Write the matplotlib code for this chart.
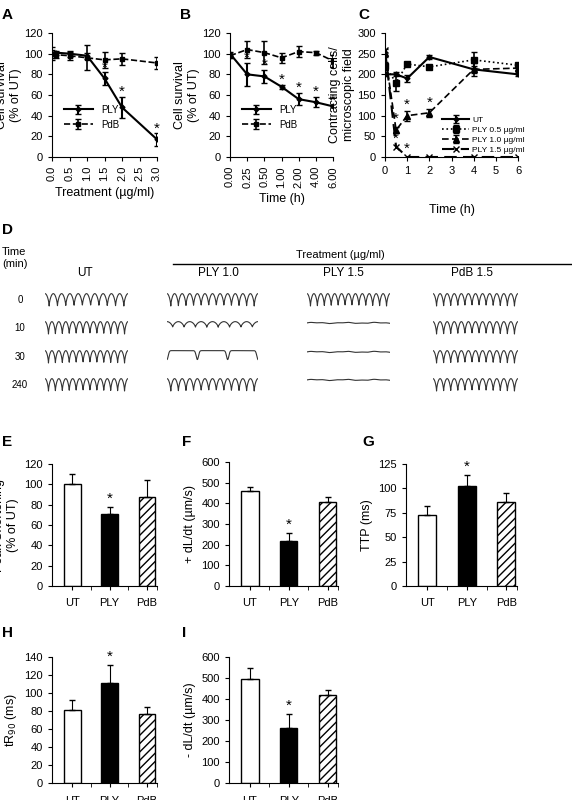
import numpy as np
import matplotlib
matplotlib.use('Agg')
import matplotlib.pyplot as plt

plt.rcParams['font.family'] = ['Liberation Sans', 'DejaVu Sans']
plt.rcParams['font.size'] = 8

# panel A
dose = [0, 0.1, 0.5, 1.0, 1.5, 2.0, 3.0]
a_ply = [100, 101, 100, 98, 76, 48, 17]
a_ply_err = [4, 2, 3, 3, 6, 10, 6]
a_pdb = [100, 99, 98, 96, 94, 95, 91]
a_pdb_err = [6, 3, 4, 12, 8, 6, 6]

# panel B
time_labels = ['0.00', '0.25', '0.50', '1.00', '2.00', '4.00', '6.00']
b_ply = [100, 80, 78, 68, 56, 53, 49]
b_ply_err = [2, 11, 6, 2, 6, 5, 1]
b_pdb = [98, 104, 101, 96, 102, 101, 93]
b_pdb_err = [2, 8, 11, 5, 5, 2, 6]

# panel C
c_time = [0, 0.5, 1, 2, 4, 6]
c_ut = [200, 200, 190, 242, 212, 200]
c_ut_err = [5, 5, 8, 5, 8, 5]
c_p05 = [220, 180, 225, 218, 235, 222]
c_p05_err = [10, 20, 5, 5, 20, 5]
c_p10 = [252, 65, 100, 107, 212, 215]
c_p10_err = [10, 8, 12, 10, 15, 5]
c_p15 = [260, 25, 0, 0, 0, 0]

# panel D trace settings
d_rows = ['0', '10', '30', '240']
d_cols = ['UT', 'PLY 1.0', 'PLY 1.5', 'PdB 1.5']
d_beats = [[10, 12, 12, 12],
           [12, 8, 0, 12],
           [12, 3, 0, 12],
           [12, 12, 0, 12]]
d_amp = [[1.0, 1.0, 1.0, 1.0],
         [1.0, 0.45, 0.05, 1.0],
         [1.0, 0.7, 0.05, 1.0],
         [1.0, 1.0, 0.05, 1.0]]

# bar panels
groups = ['UT', 'PLY', 'PdB']
bars = {
    'E': ([100, 71, 88], [10, 7, 16], 'Peak Shortening\n(% of UT)', 120, 20),
    'F': ([460, 218, 405], [18, 40, 25], '+ dL/dt (µm/s)', 600, 100),
    'G': ([73, 102, 86], [9, 12, 9], 'TTP (ms)', 125, 25),
    'H': ([81, 111, 77], [11, 20, 7], 'tR$_{90}$ (ms)', 140, 20),
    'I': ([495, 260, 420], [55, 70, 25], '- dL/dt (µm/s)', 600, 100),
}

W, H = 572, 800
fig = plt.figure(figsize=(5.72, 8.0), dpi=100)


def add_ax(x0, y0, x1, y1):
    return fig.add_axes([x0 / W, 1 - y1 / H, (x1 - x0) / W, (y1 - y0) / H])


def style(ax):
    ax.spines['top'].set_visible(False)
    ax.spines['right'].set_visible(False)
    ax.tick_params(labelsize=8, length=3)


def star(ax, x, y):
    ax.text(x, y, '*', ha='center', va='bottom', fontsize=11)


def letter(x, y, s):
    fig.text(x / W, 1 - y / H, s, fontsize=11, fontweight='bold', va='center')


# A
ax = add_ax(52, 33, 157, 157)
ax.errorbar(dose, a_ply, yerr=a_ply_err, color='black', lw=1.5, marker='D', ms=2.5, capsize=2, label='PLY')
ax.errorbar(dose, a_pdb, yerr=a_pdb_err, color='black', lw=1.2, ls='--', marker='s', ms=2.5, capsize=2, label='PdB')
for i in [4, 5, 6]:
    star(ax, dose[i], a_ply[i] + a_ply_err[i] - 2)
ax.set_xlim(0, 3)
ax.set_ylim(0, 120)
ax.set_xticks(np.arange(0, 3.01, 0.5))
ax.set_xticklabels(['%.1f' % v for v in np.arange(0, 3.01, 0.5)], rotation=90)
ax.set_yticks(range(0, 121, 20))
ax.set_xlabel('Treatment (µg/ml)', fontsize=9)
ax.set_ylabel('Cell survival\n(% of UT)', fontsize=9, labelpad=2)
ax.legend(loc='lower left', bbox_to_anchor=(0.03, 0.15), frameon=False, fontsize=7, handlelength=3)
style(ax)
letter(2, 15, 'A')

# B
ax = add_ax(230, 33, 333, 157)
xb = np.arange(len(time_labels))
ax.errorbar(xb, b_ply, yerr=b_ply_err, color='black', lw=1.5, marker='D', ms=2.5, capsize=2, label='PLY')
ax.errorbar(xb, b_pdb, yerr=b_pdb_err, color='black', lw=1.2, ls='--', marker='s', ms=2.5, capsize=2, label='PdB')
for i in range(1, 7):
    star(ax, xb[i], b_ply[i] + b_ply_err[i] - 2)
ax.set_xlim(0, 6)
ax.set_ylim(0, 120)
ax.set_xticks(xb)
ax.set_xticklabels(time_labels, rotation=90)
ax.set_yticks(range(0, 121, 20))
ax.set_xlabel('Time (h)', fontsize=9)
ax.set_ylabel('Cell survival\n(% of UT)', fontsize=9, labelpad=2)
ax.legend(loc='lower left', bbox_to_anchor=(0.03, 0.15), frameon=False, fontsize=7, handlelength=3)
style(ax)
letter(180, 15, 'B')

# C
ax = add_ax(385, 33, 518, 157)
h1 = ax.errorbar(c_time, c_ut, yerr=c_ut_err, color='black', lw=1.5, marker='D', ms=2.5, capsize=2)
h2 = ax.errorbar(c_time, c_p05, yerr=c_p05_err, color='black', lw=1.2, ls=':', marker='s', ms=4, capsize=2)
h3 = ax.errorbar(c_time, c_p10, yerr=c_p10_err, color='black', lw=1.2, ls=(0, (4, 2)), marker='^', ms=4, capsize=2)
h4, = ax.plot(c_time, c_p15, color='black', lw=1.5, ls=(0, (6, 3)), marker='x', ms=4)
star(ax, 0.5, 75)
star(ax, 0.5, 28)
star(ax, 1, 110)
star(ax, 1, 3)
star(ax, 2, 115)
ax.set_xlim(0, 6)
ax.set_ylim(0, 300)
ax.set_xticks(range(7))
ax.set_yticks(range(0, 301, 50))
ax.set_xlabel('Time (h)', fontsize=9, labelpad=20)
ax.set_ylabel('Contracting cells/\nmicroscopic field', fontsize=9, labelpad=2)
ax.legend([h1, h2, h3, h4], ['UT', 'PLY 0.5 µg/ml', 'PLY 1.0 µg/ml', 'PLY 1.5 µg/ml'],
          loc='lower left', bbox_to_anchor=(438 / W, 1 - 158 / H), bbox_transform=fig.transFigure,
          frameon=False, fontsize=6, handlelength=3.2, labelspacing=0.25, borderpad=0, handletextpad=0.4)
style(ax)
letter(358, 15, 'C')

# D
letter(2, 230, 'D')
fig.text(2 / W, 1 - 258 / H, 'Time\n(min)', fontsize=8, va='center')
fig.text(340 / W, 1 - 255 / H, 'Treatment (µg/ml)', fontsize=8, ha='center', va='center')
fig.add_artist(plt.Line2D([173 / W, 571 / W], [1 - 264 / H, 1 - 264 / H], color='black', lw=1))
col_x = [45, 167, 307, 433]
col_w = [83, 91, 83, 85]
col_center = [85, 218, 343, 472]
row_y = [300, 328, 357, 385]
for j, name in enumerate(d_cols):
    fig.text(col_center[j] / W, 1 - 273 / H, name, fontsize=8.5, ha='center', va='center')
for i, r in enumerate(d_rows):
    fig.text(20 / W, 1 - row_y[i] / H, r, fontsize=7, ha='center', va='center')
    for j in range(4):
        tax = add_ax(col_x[j], row_y[i] - 7, col_x[j] + col_w[j], row_y[i] + 7)
        t = np.linspace(0, 1, 600)
        n = d_beats[i][j]
        if n == 0:
            y = 0.9 + 0.03 * np.sin(t * 17) + 0.02 * np.sin(t * 41)
        elif n < 5:
            y = 1 - d_amp[i][j] * (np.exp(-((t * n) % 1) ** 2 / 0.003)
                                   + np.exp(-((t * n) % 1 - 1.0) ** 2 / 0.003))
        else:
            y = 1 - d_amp[i][j] * (1 - np.abs(np.cos(np.pi * n * t)) ** 0.6)
        tax.plot(t, y, color='#333333', lw=0.8)
        tax.set_xlim(0, 1)
        tax.set_ylim(-0.05, 1.05)
        tax.axis('off')

# bar panels
pos = {
    'E': (52, 464, 157, 586),
    'F': (229, 462, 338, 586),
    'G': (406, 464, 517, 586),
    'H': (52, 657, 157, 783),
    'I': (229, 657, 338, 783),
}
letter_pos = {'E': (2, 442), 'F': (182, 442), 'G': (362, 442), 'H': (2, 633), 'I': (182, 633)}
for key, (vals, errs, ylabel, ymax, step) in bars.items():
    ax = add_ax(*pos[key])
    xg = np.arange(3)
    ax.bar(xg, vals, width=0.45, yerr=[np.zeros(3), errs], capsize=2,
           color=['white', 'black', 'white'], edgecolor='black', linewidth=1,
           hatch=[None, None, '////'], error_kw=dict(lw=0.8))
    star(ax, 1, vals[1] + errs[1] + ymax * 0.01)
    ax.set_xlim(-0.54, 2.27)
    ax.set_ylim(0, ymax)
    ax.set_yticks(np.arange(0, ymax + 1, step))
    ax.set_xticks(xg)
    ax.set_xticks([0.5, 1.5, 2.27], minor=True)
    ax.set_xticklabels(groups, fontsize=8)
    ax.tick_params(axis='x', which='major', length=0, pad=6)
    ax.tick_params(axis='x', which='minor', length=3)
    ax.set_ylabel(ylabel, fontsize=9)
    style(ax)
    letter(letter_pos[key][0], letter_pos[key][1], key)

plt.savefig('out.png', dpi=100)
